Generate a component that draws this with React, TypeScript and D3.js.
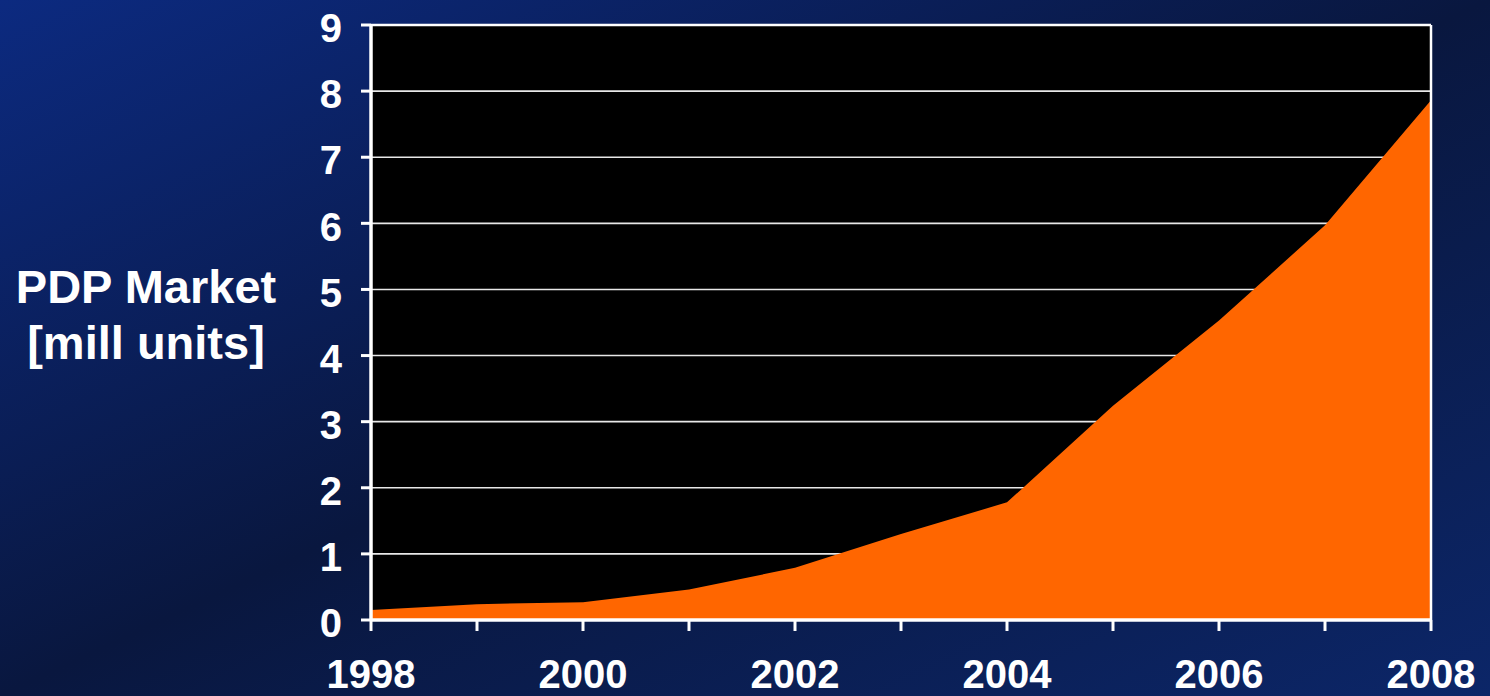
import React from "react";
import * as d3 from "d3";

const years = [1998, 1999, 2000, 2001, 2002, 2003, 2004, 2005, 2006, 2007, 2008];
const marketUnits = [0.15, 0.24, 0.27, 0.46, 0.79, 1.3, 1.78, 3.24, 4.53, 5.97, 7.86];
const yTicks = [0, 1, 2, 3, 4, 5, 6, 7, 8, 9];
const xLabelYears = [1998, 2000, 2002, 2004, 2006, 2008];
const yTitleLines = ["PDP Market", "[mill units]"];

const W = 1490;
const H = 696;
const left = 371;
const right = 1431;
const top = 25;
const bottom = 620;
const FONT = "'Liberation Sans', Arial, Helvetica, sans-serif";

export default function App() {
  const x = d3.scaleLinear().domain([1998, 2008]).range([left, right]);
  const y = d3.scaleLinear().domain([0, 9]).range([bottom, top]);
  const area = d3
    .area<number>()
    .x((_, i) => x(years[i]))
    .y0(y(0))
    .y1((d) => y(d));
  const areaPath = area(marketUnits) || "";

  return (
    <svg
      width={W}
      height={H}
      style={{ position: "absolute", left: 0, top: 0, display: "block" }}
    >
      <defs>
        <linearGradient id="bg" x1="0" y1="0" x2="1" y2="1">
          <stop offset="0" stopColor="#0c2a80" />
          <stop offset="0.5" stopColor="#09173f" />
          <stop offset="1" stopColor="#0c2668" />
        </linearGradient>
      </defs>
      <rect x={0} y={0} width={W} height={H} fill="url(#bg)" />
      <rect x={left} y={top} width={right - left} height={bottom - top} fill="#000" />
      {yTicks.slice(1, -1).map((t) => (
        <line
          key={"g" + t}
          x1={left}
          x2={right}
          y1={y(t)}
          y2={y(t)}
          stroke="#e8e8e8"
          strokeWidth={1.6}
        />
      ))}
      <path d={areaPath} fill="#ff6600" />
      <line x1={left} x2={right} y1={top} y2={top} stroke="#fff" strokeWidth={2.5} />
      <line x1={right} x2={right} y1={top} y2={bottom} stroke="#fff" strokeWidth={2.5} />
      <line x1={left} x2={left} y1={top - 1} y2={bottom + 1} stroke="#fff" strokeWidth={3.5} />
      <line x1={left - 1} x2={right + 1} y1={bottom} y2={bottom} stroke="#fff" strokeWidth={3.5} />
      {yTicks.map((t) => (
        <g key={"yt" + t}>
          <line x1={left - 10} x2={left} y1={y(t)} y2={y(t)} stroke="#fff" strokeWidth={3} />
          <text
            x={342}
            y={y(t)}
            dy="0.43em"
            textAnchor="end"
            fill="#fff"
            fontFamily={FONT}
            fontWeight="bold"
            fontSize={40}
          >
            {t}
          </text>
        </g>
      ))}
      {years.map((yr) => (
        <line
          key={"xt" + yr}
          x1={x(yr)}
          x2={x(yr)}
          y1={bottom}
          y2={bottom + 11}
          stroke="#fff"
          strokeWidth={3}
        />
      ))}
      {xLabelYears.map((yr) => (
        <text
          key={"xl" + yr}
          x={x(yr)}
          y={688}
          textAnchor="middle"
          fill="#fff"
          fontFamily={FONT}
          fontWeight="bold"
          fontSize={40}
        >
          {yr}
        </text>
      ))}
      {yTitleLines.map((ln, i) => (
        <text
          key={"yl" + i}
          x={146}
          y={303 + i * 56}
          textAnchor="middle"
          fill="#fff"
          fontFamily={FONT}
          fontWeight="bold"
          fontSize={47}
        >
          {ln}
        </text>
      ))}
    </svg>
  );
}
